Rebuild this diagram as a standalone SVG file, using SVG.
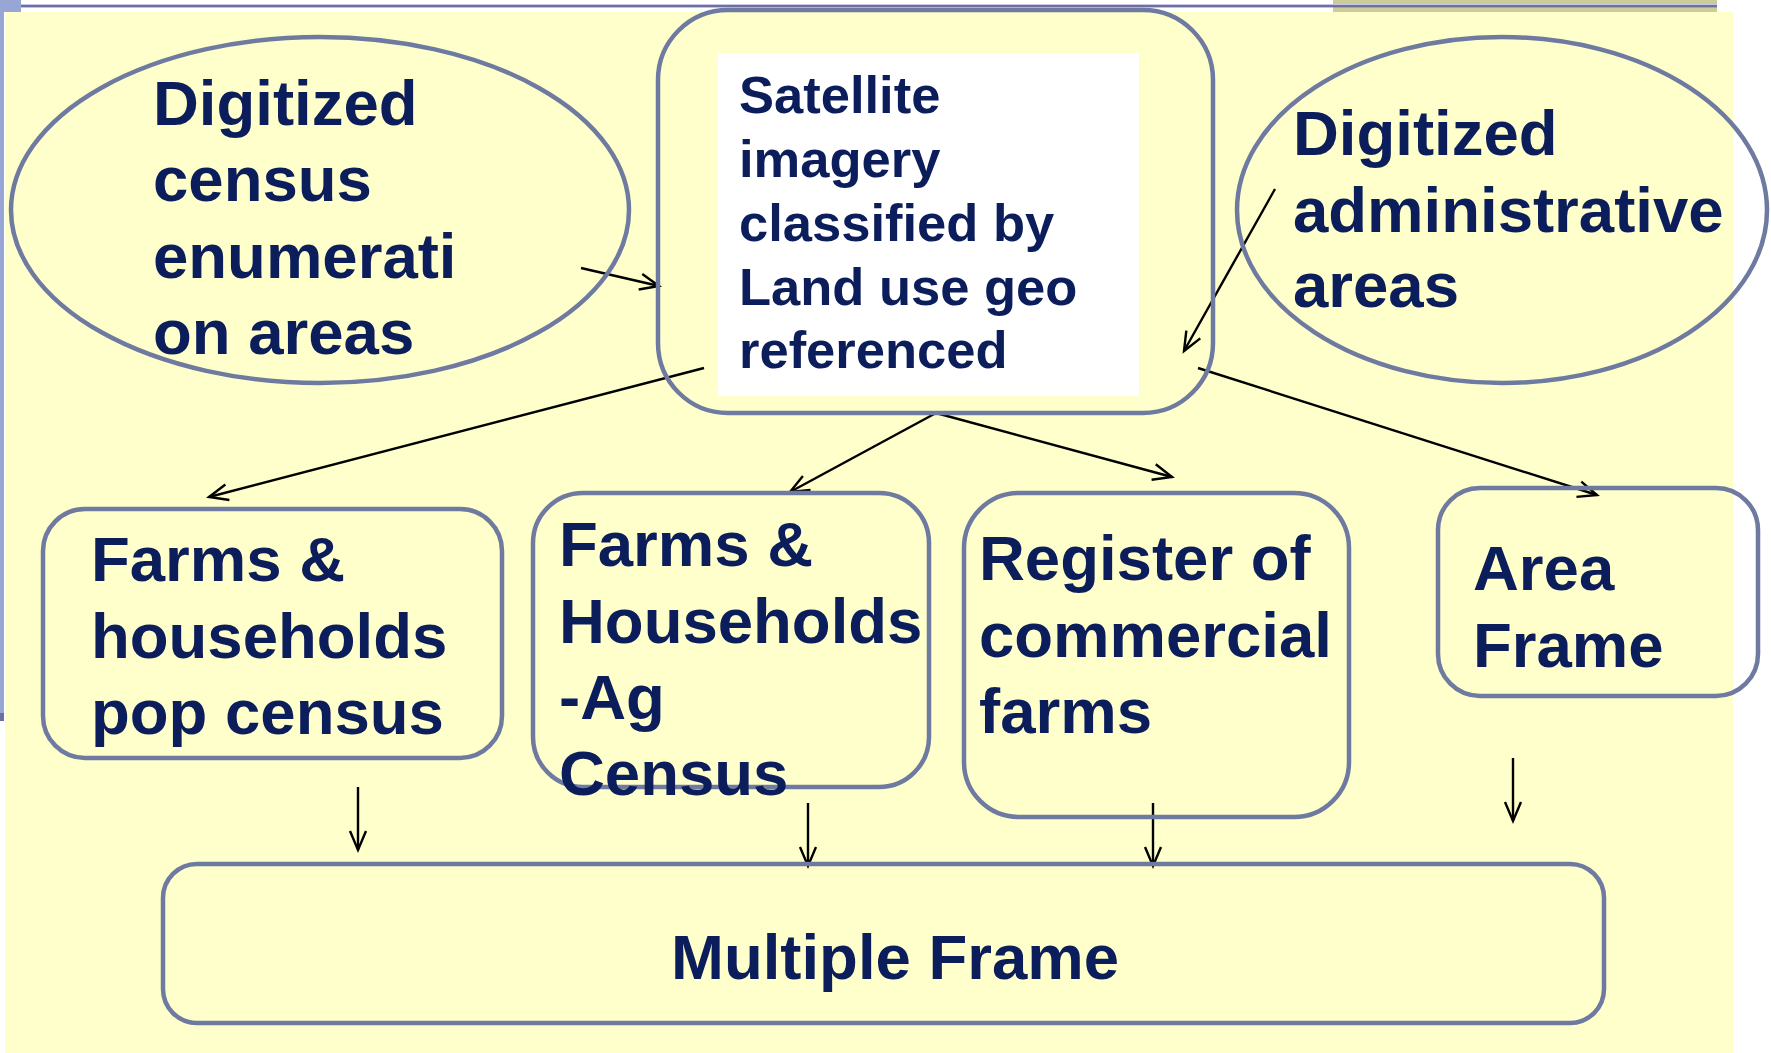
<svg xmlns="http://www.w3.org/2000/svg" width="1771" height="1053" viewBox="0 0 1771 1053">
  <defs>
    <style>
      .shape { fill: none; stroke: #6E7AA0; stroke-width: 4.5; }
      .label { font-family: "Liberation Sans", Arial, sans-serif; font-weight: bold; fill: #0B1D5A; }
      .big { font-size: 63.5px; }
      .mid { font-size: 52.5px; }
      .conn { stroke: #000; stroke-width: 2.4; fill: none; marker-end: url(#arrow); }
    </style>
    <marker id="arrow" markerUnits="userSpaceOnUse" markerWidth="26" markerHeight="22" refX="20" refY="11" orient="auto">
      <path d="M1,3 L20,11 L1,19" fill="none" stroke="#000" stroke-width="2.4"/>
    </marker>
  </defs>

  <!-- page frame -->
  <rect x="0" y="0" width="1771" height="1053" fill="#FFFFFF"/>
  <rect x="5" y="12" width="1728" height="1041" fill="#FFFFCC"/>
  <rect x="1333" y="0" width="384" height="12" fill="#CCCC99"/>
  <rect x="0" y="4" width="1717" height="1.2" fill="#C8C8E4"/>
  <rect x="0" y="5" width="1717" height="2.4" fill="#6F6F9F"/>
  <rect x="0" y="0" width="21" height="12" fill="#97A6D4"/>
  <rect x="0" y="0" width="4" height="713" fill="#97A6D4"/>
  <rect x="0" y="713" width="4" height="8" fill="#6F6F9F"/>

  <!-- connectors -->
  <g id="connectors">
    <line class="conn" x1="581" y1="268" x2="659" y2="286"/>
    <line class="conn" x1="1275" y1="189" x2="1184" y2="351"/>
    <line class="conn" x1="704" y1="368" x2="209" y2="497"/>
    <line class="conn" x1="936" y1="413" x2="790" y2="492"/>
    <line class="conn" x1="936" y1="413" x2="1172" y2="477"/>
    <line class="conn" x1="1198" y1="368" x2="1597" y2="495"/>
    <line class="conn" x1="358" y1="787" x2="358" y2="850"/>
    <line class="conn" x1="808" y1="803" x2="808" y2="866"/>
    <line class="conn" x1="1153" y1="803" x2="1153" y2="866"/>
    <line class="conn" x1="1513" y1="758" x2="1513" y2="821"/>
  </g>

  <g id="census-areas">
    <ellipse class="shape" cx="320" cy="210" rx="309" ry="173"/>
    <text class="label big">
      <tspan x="153" y="125">Digitized</tspan>
      <tspan x="153" y="201">census</tspan>
      <tspan x="153" y="278">enumerati</tspan>
      <tspan x="153" y="354">on areas</tspan>
    </text>
  </g>

  <g id="satellite-imagery">
    <rect class="shape" x="658" y="10" width="555" height="403" rx="70" ry="70"/>
    <rect x="718" y="53" width="421" height="343" fill="#FFFFFF"/>
    <text class="label mid">
      <tspan x="739" y="113">Satellite</tspan>
      <tspan x="739" y="177">imagery</tspan>
      <tspan x="739" y="241">classified by</tspan>
      <tspan x="739" y="305">Land use geo</tspan>
      <tspan x="739" y="368">referenced</tspan>
    </text>
  </g>

  <g id="admin-areas">
    <ellipse class="shape" cx="1502" cy="210" rx="265" ry="173"/>
    <text class="label big">
      <tspan x="1293" y="155">Digitized</tspan>
      <tspan x="1293" y="232">administrative</tspan>
      <tspan x="1293" y="307">areas</tspan>
    </text>
  </g>

  <g id="pop-census">
    <rect class="shape" x="43" y="509" width="459" height="249" rx="42" ry="42"/>
    <text class="label big">
      <tspan x="91" y="581">Farms &amp;</tspan>
      <tspan x="91" y="658">households</tspan>
      <tspan x="91" y="734">pop census</tspan>
    </text>
  </g>

  <g id="ag-census">
    <rect class="shape" x="533" y="493" width="396" height="294" rx="50" ry="50"/>
    <text class="label big">
      <tspan x="559" y="566">Farms &amp;</tspan>
      <tspan x="559" y="643">Households</tspan>
      <tspan x="559" y="719">-Ag</tspan>
      <tspan x="559" y="795">Census</tspan>
    </text>
  </g>

  <g id="commercial-register">
    <rect class="shape" x="964" y="493" width="385" height="324" rx="55" ry="55"/>
    <text class="label big">
      <tspan x="979" y="580">Register of</tspan>
      <tspan x="979" y="657">commercial</tspan>
      <tspan x="979" y="733">farms</tspan>
    </text>
  </g>

  <g id="area-frame">
    <rect class="shape" x="1438" y="488" width="320" height="208" rx="42" ry="42"/>
    <text class="label big">
      <tspan x="1473" y="590">Area</tspan>
      <tspan x="1473" y="667">Frame</tspan>
    </text>
  </g>

  <g id="multiple-frame">
    <rect class="shape" x="163" y="864" width="1441" height="159" rx="34" ry="34"/>
    <text class="label big" x="671" y="979">Multiple Frame</text>
  </g>
</svg>
